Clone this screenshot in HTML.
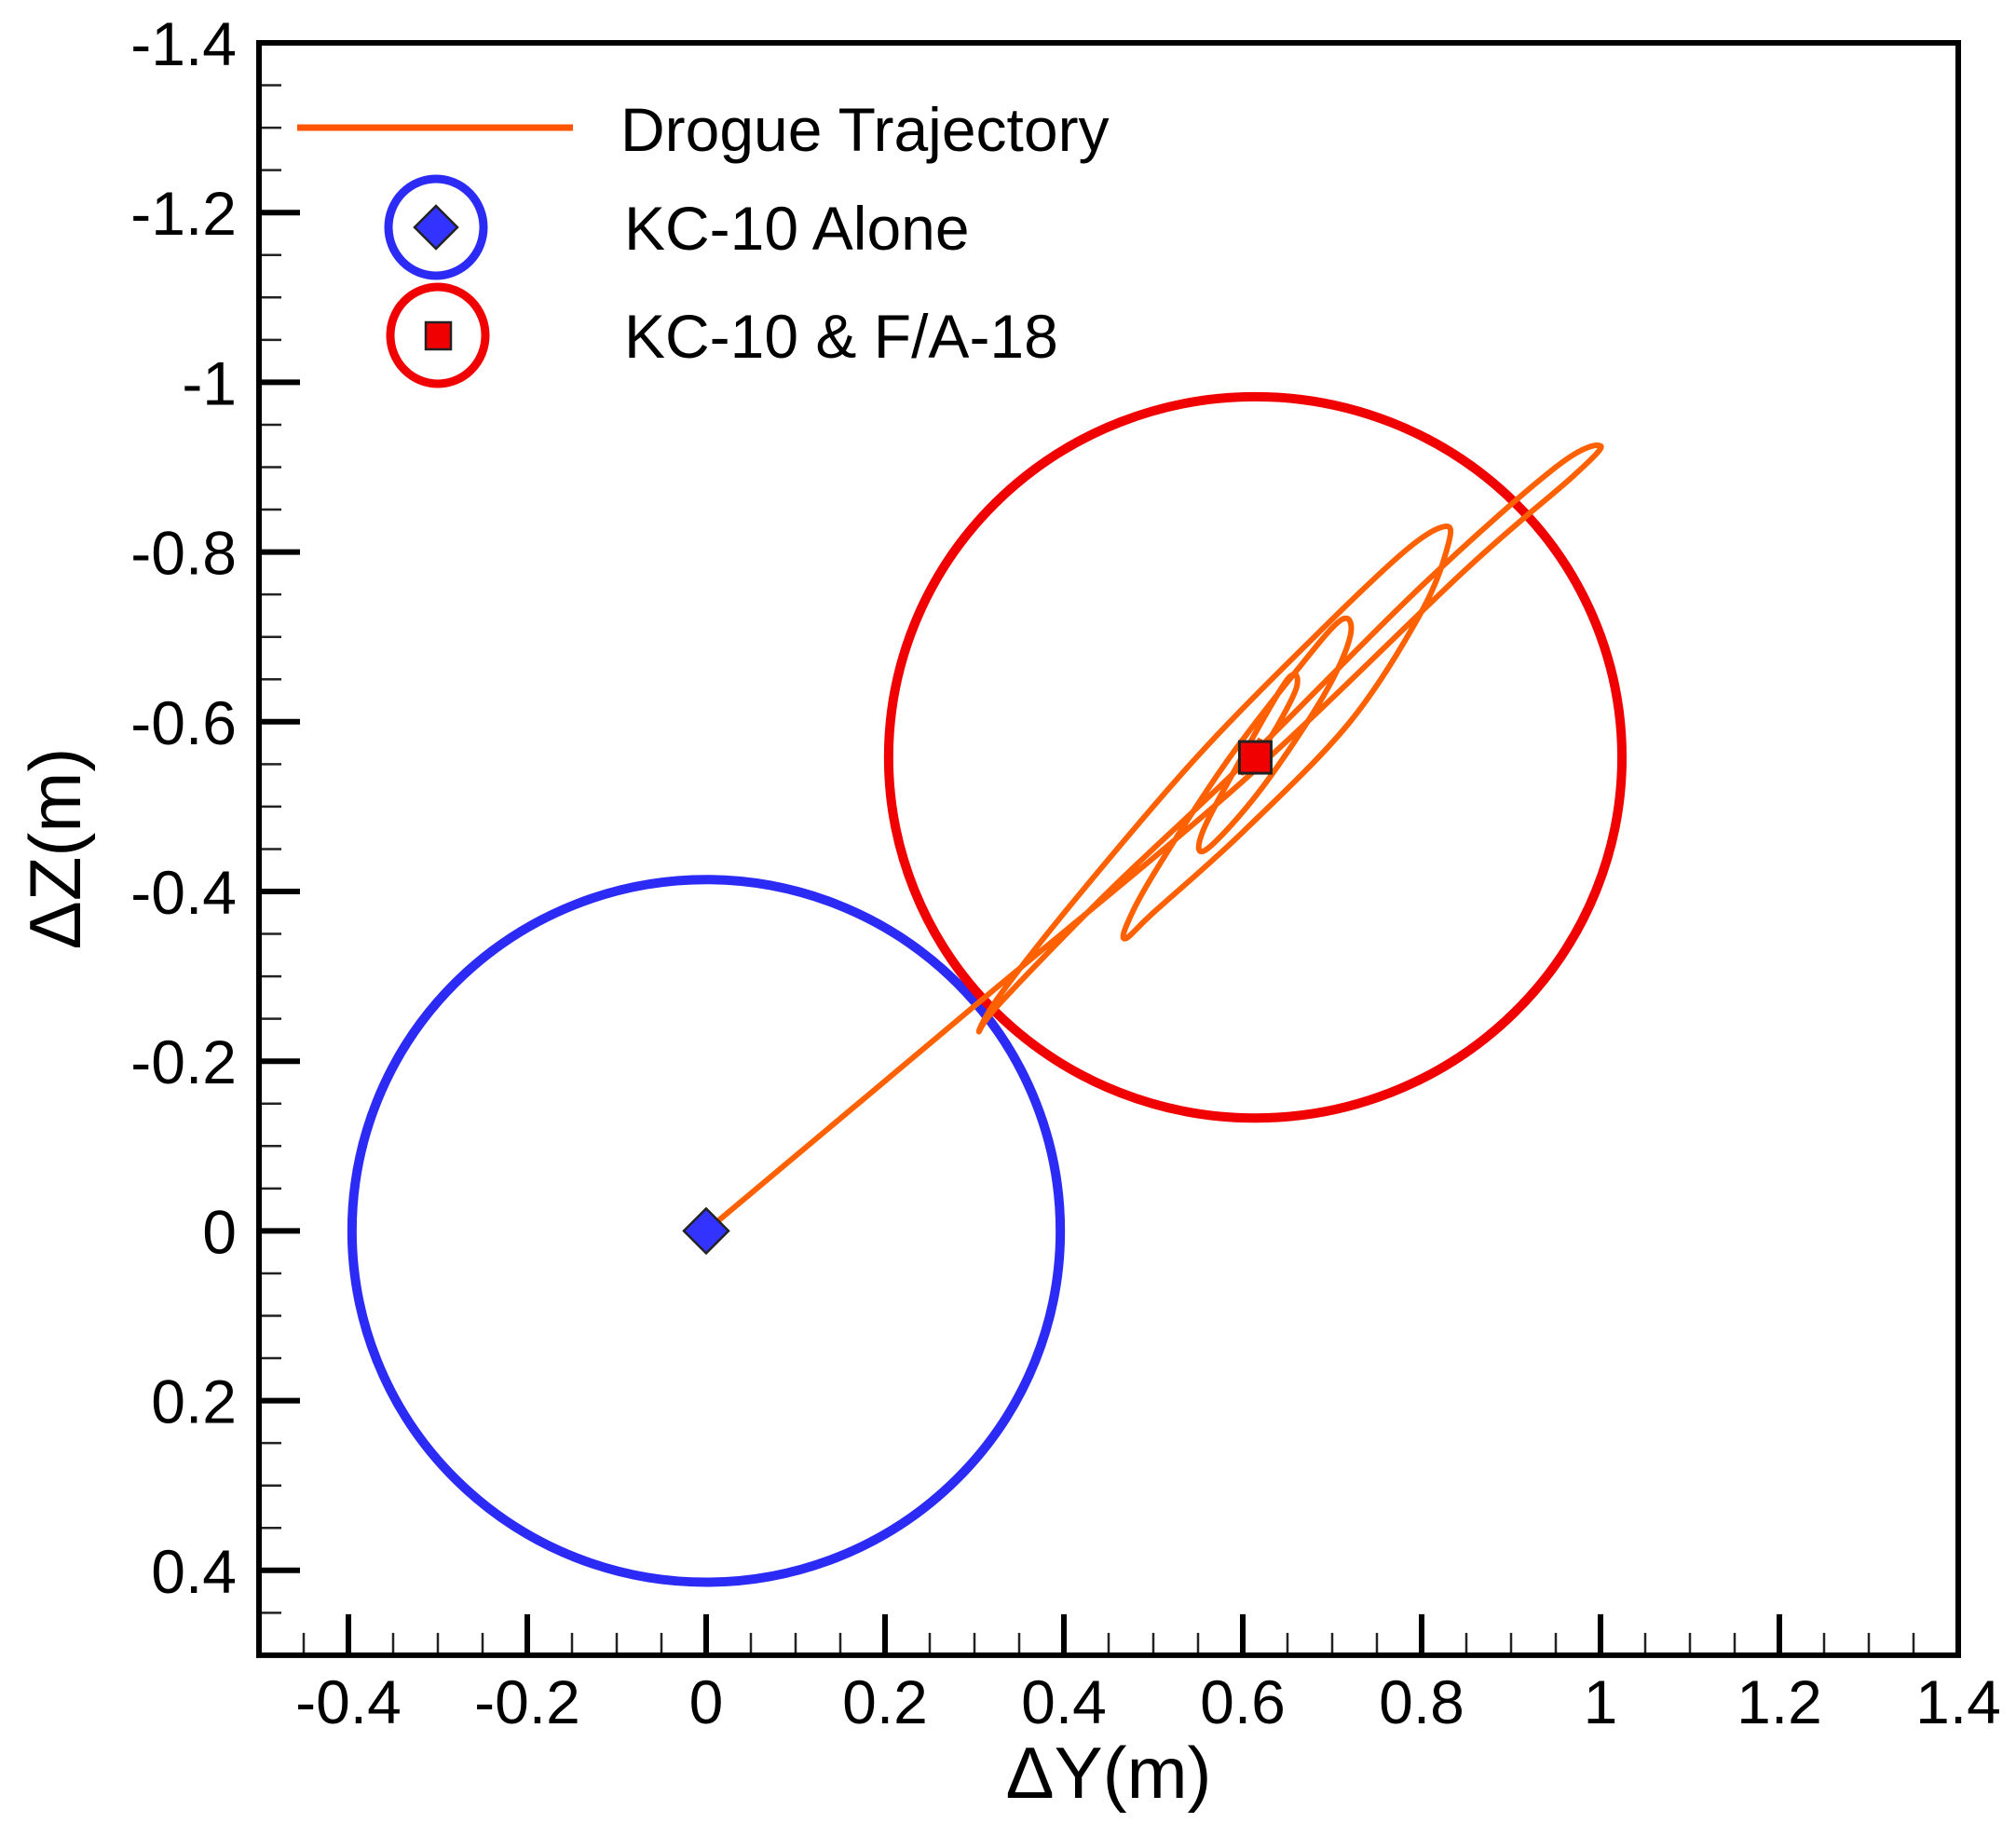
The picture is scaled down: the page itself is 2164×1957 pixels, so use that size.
<!DOCTYPE html>
<html><head><meta charset="utf-8"><style>
html,body{margin:0;padding:0;background:#fff;}
svg{display:block;font-family:"Liberation Sans",Arial,sans-serif;}
</style></head><body>
<svg id="chart" width="2164" height="1957" viewBox="0 0 2164 1957" xmlns="http://www.w3.org/2000/svg">
<g id="plot"></g>
</svg>
<script>
const xTicks = [-0.4,-0.2,0,0.2,0.4,0.6,0.8,1,1.2,1.4];
const xTickLabels = ["-0.4","-0.2","0","0.2","0.4","0.6","0.8","1","1.2","1.4"];
const yTicks = [-1.4,-1.2,-1,-0.8,-0.6,-0.4,-0.2,0,0.2,0.4];
const yTickLabels = ["-1.4","-1.2","-1","-0.8","-0.6","-0.4","-0.2","0","0.2","0.4"];
const trajY = [0,0.3,0.6,0.85,0.97,1.0,0.95,0.8,0.6,0.45,0.33,0.305,0.33,0.42,0.55,0.68,0.78,0.825,0.83,0.8,0.72,0.6,0.5,0.47,0.47,0.5,0.58,0.66,0.71,0.72,0.69,0.62,0.56,0.555,0.6,0.65,0.66,0.63,0.6,0.62];
const trajZ = [0,-0.265,-0.53,-0.78,-0.89,-0.925,-0.9,-0.76,-0.55,-0.4,-0.27,-0.235,-0.28,-0.4,-0.56,-0.7,-0.8,-0.83,-0.81,-0.73,-0.6,-0.47,-0.375,-0.345,-0.36,-0.42,-0.55,-0.66,-0.72,-0.7,-0.63,-0.52,-0.45,-0.47,-0.56,-0.65,-0.64,-0.58,-0.54,-0.58];
const aloneCenter = [0,0];
const aloneRadius = [0.396,0.414];
const pairCenter = [0.614,-0.558];
const pairRadius = [0.41,0.425];

const X0=278, XU=960, Y0=46, YU=911;
const sx = v => X0 + (v+0.5)*XU;
const sy = v => Y0 + (v+1.4)*YU;
const NS="http://www.w3.org/2000/svg";
const g=document.getElementById('plot');
function mk(tag, attrs, parent){const e=document.createElementNS(NS,tag);for(const k in attrs)e.setAttribute(k,attrs[k]);(parent||g).appendChild(e);return e;}

const L=sx(-0.5),R=sx(1.4),T=sy(-1.4),B=sy(0.5);
for(let i=0;i<=38;i++){const v=-0.5+i*0.05;const x=sx(v);
  const t=mk('line',{x1:x,y1:B,x2:x,y2:B-24,stroke:'#222','stroke-width':2.5});
  
  }
for(let i=0;i<=38;i++){const v=-1.4+i*0.05;const y=sy(v);
  const t=mk('line',{x1:L,y1:y,x2:L+24,y2:y,stroke:'#222','stroke-width':2.5});
  
  }
xTicks.forEach((v,i)=>{const x=sx(v);
  const t=mk('line',{x1:x,y1:B,x2:x,y2:B-44,stroke:'#000','stroke-width':6});
  
  
  const tx=mk('text',{x:x,y:1850,'font-size':66,'text-anchor':'middle',fill:'#000'});
  tx.textContent=xTickLabels[i];
  
  });
yTicks.forEach((v,i)=>{const y=sy(v);
  const t=mk('line',{x1:L,y1:y,x2:L+44,y2:y,stroke:'#000','stroke-width':6});
  
  
  const tx=mk('text',{x:254,y:y+24,'font-size':66,'text-anchor':'end',fill:'#000'});
  tx.textContent=yTickLabels[i];
  
  });
const frame=mk('rect',{x:L,y:T,width:R-L,height:B-T,fill:'none',stroke:'#000','stroke-width':6});



const c1=mk('ellipse',{cx:sx(aloneCenter[0]),cy:sy(aloneCenter[1]),rx:aloneRadius[0]*XU,ry:aloneRadius[1]*YU,fill:'none',stroke:'#2b2bf5','stroke-width':10});


const c2=mk('ellipse',{cx:sx(pairCenter[0]),cy:sy(pairCenter[1]),rx:pairRadius[0]*XU,ry:pairRadius[1]*YU,fill:'none',stroke:'#f00000','stroke-width':10});



const pts=trajY.map((v,i)=>[sx(v),sy(trajZ[i])]);
let d='M'+pts[0][0]+','+pts[0][1];
for(let i=0;i<pts.length-1;i++){const p0=pts[Math.max(0,i-1)],p1=pts[i],p2=pts[i+1],p3=pts[Math.min(pts.length-1,i+2)];
  const c1x=p1[0]+(p2[0]-p0[0])/6,c1y=p1[1]+(p2[1]-p0[1])/6,c2x=p2[0]-(p3[0]-p1[0])/6,c2y=p2[1]-(p3[1]-p1[1])/6;
  d+=` C${c1x},${c1y} ${c2x},${c2y} ${p2[0]},${p2[1]}`;}
const tr=mk('path',{d:d,fill:'none',stroke:'#ff6000','stroke-width':6,'stroke-linejoin':'round'});



const ax=sx(aloneCenter[0]),ay=sy(aloneCenter[1]);
const dm=mk('polygon',{points:`${ax},${ay-24} ${ax+24},${ay} ${ax},${ay+24} ${ax-24},${ay}`,fill:'#3333ff',stroke:'#222','stroke-width':2.5});


const px=sx(pairCenter[0]),py=sy(pairCenter[1]);
const sq=mk('rect',{x:px-17,y:py-17,width:34,height:34,fill:'#f00000',stroke:'#222','stroke-width':3});



const lg=mk('g',{});


const ll=mk('line',{x1:319,y1:137,x2:615,y2:137,stroke:'#ff5500','stroke-width':7},lg);


const t1=mk('text',{x:666,y:162,'font-size':66,fill:'#000'},lg);t1.textContent='Drogue Trajectory';


const lc1=mk('ellipse',{cx:468,cy:244,rx:51,ry:52,fill:'none',stroke:'#2b2bf5','stroke-width':9},lg);


const ld=mk('polygon',{points:'468,221 491,244 468,267 445,244',fill:'#3333ff',stroke:'#222','stroke-width':2.5},lg);


const t2=mk('text',{x:670,y:268,'font-size':66,fill:'#000'},lg);t2.textContent='KC-10 Alone';


const lc2=mk('ellipse',{cx:470,cy:360,rx:51,ry:52,fill:'none',stroke:'#f00000','stroke-width':9},lg);


const ls=mk('rect',{x:457,y:346,width:27,height:29,fill:'#f00000',stroke:'#222','stroke-width':2.5},lg);


const t3=mk('text',{x:670,y:384,'font-size':66,fill:'#000'},lg);t3.textContent='KC-10 & F/A-18';



const xt=mk('text',{x:1190,y:1930,'font-size':78,'text-anchor':'middle',fill:'#000'});xt.textContent='ΔY(m)';


const yt=mk('text',{x:0,y:0,'font-size':78,'text-anchor':'middle',fill:'#000',transform:'translate(86,911) rotate(-90)'});yt.textContent='ΔZ(m)';


</script>
</body></html>
